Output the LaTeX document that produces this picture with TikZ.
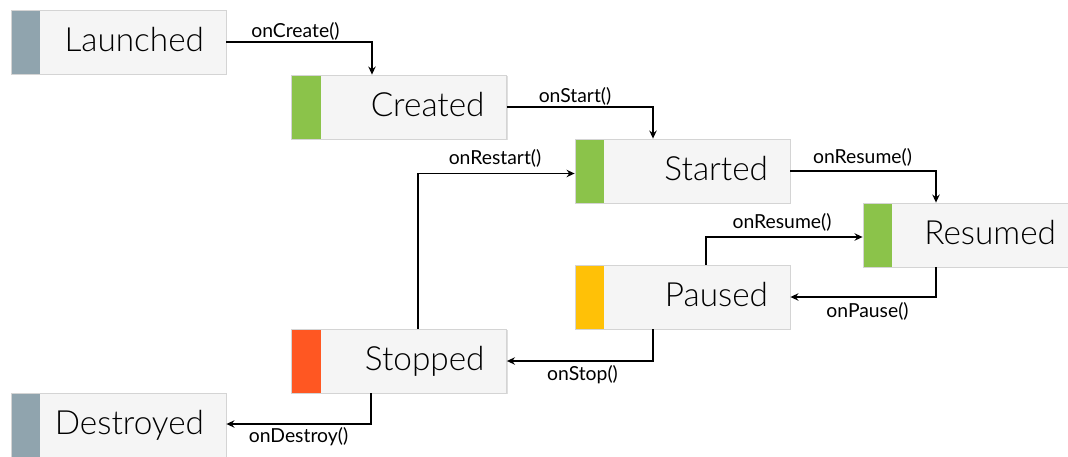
\documentclass[tikz,border=0pt]{standalone}
\usepackage{fontspec}
\IfFontExistsTF{Lato Light}{\newfontfamily\boxfont{Lato Light}}{\newfontfamily\boxfont{Lato}}
\setmainfont{Lato}
\usetikzlibrary{arrows.meta,shadows,calc}
\definecolor{boxfill}{HTML}{F5F5F5}
\definecolor{boxline}{HTML}{D4D4D4}
\definecolor{cgray}{HTML}{90A4AE}
\definecolor{cgreen}{HTML}{8BC34A}
\definecolor{camber}{HTML}{FFC107}
\definecolor{cred}{HTML}{FF5722}
\tikzset{
  statebox/.style={rectangle, draw=boxline, line width=0.6pt, fill=boxfill,
    drop shadow={opacity=0.25, shadow xshift=0.8pt, shadow yshift=-0.8pt},
    minimum height=48pt, text width=128.25pt, inner xsep=16.5pt, inner ysep=0pt,
    align=right, font=\boxfont\fontsize{25}{27}\selectfont,
    text height=14.4pt, text depth=0pt,
    path picture={\fill[#1] (path picture bounding box.south west) rectangle
      ([xshift=21.75pt]path picture bounding box.north west);}},
  conn/.style={line width=1.2pt, -{Stealth[length=6pt,width=5.5pt]}},
  lbl/.style={font=\fontsize{14.5}{16}\selectfont, inner sep=0pt}
}
\begin{document}
\begin{tikzpicture}[x=0.75pt,y=-0.75pt]
\clip (0,0) rectangle (1068,457);
\fill[white] (0,0) rectangle (1068,457);
\node[statebox=cgray]  (launched)  at (118.5,42)  {Launched};
\node[statebox=cgreen] (created)   at (399,107)   {Created};
\node[statebox=cgreen] (started)   at (682.5,171) {Started};
\node[statebox=cgreen] (resumed)   at (970.5,235) {Resumed};
\node[statebox=camber] (paused)    at (682.5,297) {Paused};
\node[statebox=cred]   (stopped)   at (399,361)   {Stopped};
\node[statebox=cgray]  (destroyed) at (118.5,425) {Destroyed};

\draw[conn] (launched.east) -| ($(created.north)+(-27,0)$);
\draw[conn] (created.east) -| ($(started.north)+(-29.5,0)$);
\draw[conn] ($(stopped.north)+(19,0)$) |- ($(started.west)+(0,2.5)$);
\draw[conn] (started.east) -| ($(resumed.north)+(-34.5,0)$);
\draw[conn] ($(paused.north)+(23.5,0)$) |- ($(resumed.west)+(0,2)$);
\draw[conn] ($(resumed.south)+(-34.5,0)$) |- (paused.east);
\draw[conn] ($(paused.south)+(-29.5,0)$) |- (stopped.east);
\draw[conn] ($(stopped.south)+(-28,0)$) |- ($(destroyed.east)+(0,-1)$);

\node[lbl] (lcreate)  at (295.5,31)  {onCreate()};
\node[lbl] (lstart)   at (575,96)    {onStart()};
\node[lbl] (lrestart) at (495,158)   {onRestart()};
\node[lbl] (lresume)  at (862.5,157) {onResume()};
\node[lbl] (lresume2) at (782,222)   {onResume()};
\node[lbl] (lpause)   at (867.5,311) {onPause()};
\node[lbl] (lstop)    at (582.5,375) {onStop()};
\node[lbl] (ldestroy) at (298.5,437) {onDestroy()};
\end{tikzpicture}
\end{document}
